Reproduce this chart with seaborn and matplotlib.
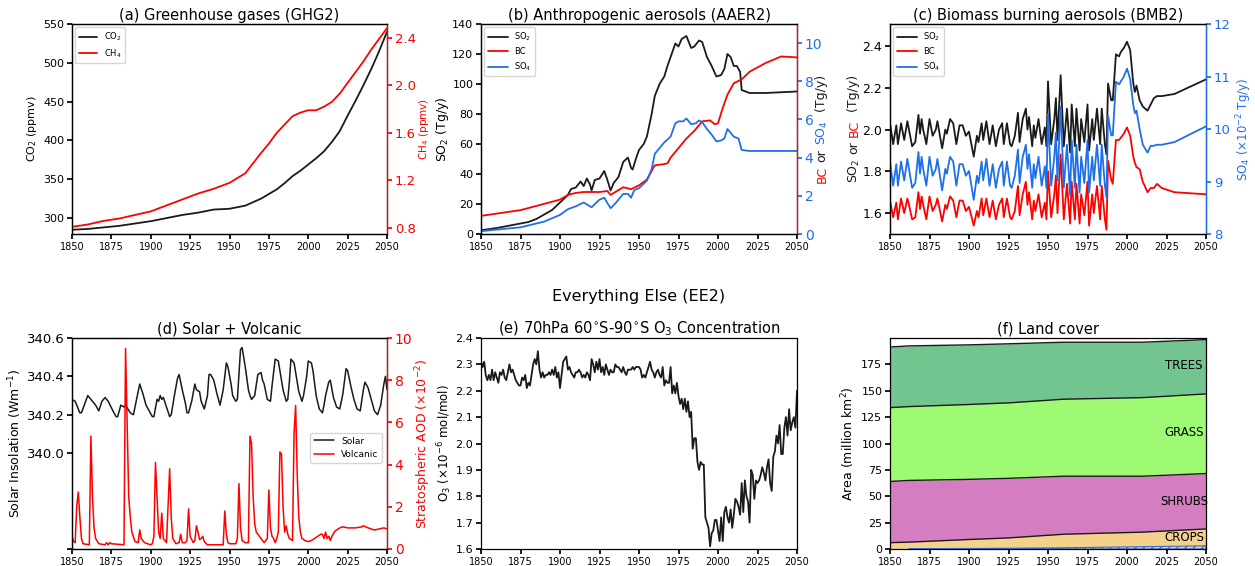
import numpy as np
import matplotlib
matplotlib.use("Agg")
import matplotlib.pyplot as plt
from matplotlib.lines import Line2D
import seaborn as sns

# ---------------- data ----------------
# (a) Greenhouse gases
ghg_years = [1850, 1860, 1870, 1880, 1890, 1900, 1910, 1920, 1930, 1940, 1950, 1960, 1970, 1975, 1980,
             1985, 1990, 1995, 2000, 2005, 2010, 2015, 2020, 2025, 2030, 2035, 2040, 2045, 2050]
co2 = [285, 286, 288, 290, 293, 296, 300, 304, 307, 311, 312, 316, 325, 331, 337,
       345, 354, 361, 369, 377, 386, 398, 412, 432, 451, 471, 492, 515, 540]
ch4 = [0.81, 0.83, 0.86, 0.88, 0.91, 0.94, 0.99, 1.04, 1.09, 1.13, 1.18, 1.26, 1.43, 1.51, 1.60,
       1.67, 1.74, 1.77, 1.79, 1.79, 1.82, 1.86, 1.93, 2.02, 2.11, 2.20, 2.30, 2.39, 2.48]

# (b) Anthropogenic aerosols
aaer_so2_years = [1850, 1860, 1870, 1875, 1880, 1885, 1890, 1895, 1900, 1905,
                  1907, 1910, 1913, 1915, 1917, 1919, 1920, 1922, 1925, 1928,
                  1930, 1932, 1934, 1937, 1940, 1943, 1945, 1946, 1948, 1950,
                  1953, 1955, 1958, 1960, 1963, 1966, 1968, 1970, 1973, 1975,
                  1977, 1980, 1983, 1985, 1988, 1990, 1993, 1996, 1999, 2002,
                  2004, 2006, 2008, 2010, 2012, 2014, 2015, 2020, 2030, 2050]
aaer_so2 = [2.5, 4, 6, 7, 8, 10, 13, 16, 21, 26,
            30, 31, 35, 32, 37, 33, 29, 36, 37, 42,
            36, 29, 34, 38, 48, 51, 44, 43, 50, 56,
            60, 65, 80, 92, 100, 105, 112, 118, 127, 125,
            130, 132, 124, 125, 129, 128, 118, 112, 105, 106,
            110, 120, 118, 112, 112, 108, 96, 94, 94, 95]
aaer_bc_years = [1850, 1875, 1900, 1905, 1910, 1915, 1920, 1925, 1930, 1932,
                 1935, 1940, 1945, 1950, 1955, 1958, 1960, 1965, 1968, 1970,
                 1975, 1980, 1985, 1990, 1995, 1998, 2000, 2003, 2006, 2010,
                 2015, 2020, 2030, 2040, 2050]
aaer_bc = [0.95, 1.25, 1.8, 2.05, 2.15, 2.2, 2.2, 2.2, 2.25, 2.05,
           2.2, 2.45, 2.35, 2.55, 2.85, 3.3, 3.6, 3.65, 3.7, 4.0,
           4.5, 5.0, 5.4, 5.9, 5.95, 5.75, 5.8, 6.6, 7.3, 7.9,
           8.1, 8.5, 8.95, 9.3, 9.25]
aaer_so4_years = [1850, 1875, 1890, 1900, 1905, 1910, 1915, 1917, 1920, 1925,
                  1928, 1932, 1935, 1938, 1940, 1943, 1945, 1947, 1950, 1955,
                  1958, 1960, 1963, 1966, 1970, 1973, 1975, 1978, 1980, 1983,
                  1986, 1988, 1990, 1993, 1996, 1999, 2002, 2004, 2006, 2008,
                  2010, 2013, 2015, 2020, 2050]
aaer_so4 = [0.15, 0.35, 0.65, 1.0, 1.3, 1.45, 1.65, 1.55, 1.4, 1.8,
            1.9, 1.35, 1.6, 1.9, 2.1, 2.1, 1.9, 2.3, 2.4, 2.8,
            3.4, 4.2, 4.5, 4.8, 5.1, 5.8, 5.9, 5.9, 6.05, 5.75,
            5.8, 5.95, 5.85, 5.5, 5.2, 4.85, 4.9, 5.0, 5.5, 5.3,
            5.1, 5.0, 4.4, 4.35, 4.35]

# (c) Biomass burning aerosols
bmb_years = [1850, 1852, 1854, 1855, 1857, 1859, 1861, 1862, 1864, 1866,
             1868, 1869, 1870, 1871, 1873, 1875, 1877, 1879, 1880, 1883,
             1885, 1886, 1888, 1890, 1892, 1894, 1896, 1898, 1900, 1903,
             1905, 1906, 1908, 1909, 1911, 1913, 1915, 1917, 1919, 1921,
             1922, 1924, 1926, 1927, 1929, 1931, 1932, 1934, 1936, 1937,
             1938, 1940, 1941, 1942, 1944, 1946, 1948, 1949, 1950, 1952,
             1954, 1955, 1956, 1958, 1960, 1962, 1964, 1965, 1967, 1968,
             1970, 1971, 1973, 1975, 1976, 1978, 1979, 1981, 1983, 1984,
             1986, 1987, 1988, 1990, 1991, 1993, 1995, 1996, 1998, 2000,
             2002, 2004, 2005, 2006, 2008, 2010, 2013, 2015, 2017, 2019,
             2022, 2030, 2050]
bmb_so2 = [2.03, 1.93, 2.02, 1.93, 2.03, 1.95, 2.04, 2.00, 1.92, 1.94,
           2.07, 1.98, 2.05, 2.00, 1.93, 2.05, 1.97, 2.00, 2.04, 1.91,
           2.00, 1.98, 2.05, 2.03, 1.93, 2.02, 2.02, 1.97, 1.99, 1.87,
           1.97, 1.94, 2.03, 1.95, 2.04, 1.93, 2.02, 1.92, 2.00, 2.03,
           1.93, 2.03, 1.93, 1.92, 1.97, 2.08, 1.94, 2.05, 2.10, 2.00,
           2.06, 1.92, 2.02, 1.96, 2.05, 1.93, 2.01, 1.92, 2.23, 1.93,
           2.05, 2.15, 1.95, 2.26, 1.92, 2.10, 1.89, 2.12, 1.92, 2.10,
           1.90, 2.05, 1.94, 2.12, 1.90, 2.05, 1.95, 2.10, 1.93, 2.10,
           1.93, 1.88, 2.22, 2.14, 2.14, 2.36, 2.35, 2.37, 2.39, 2.42,
           2.38, 2.22, 2.18, 2.21, 2.14, 2.11, 2.09, 2.12, 2.15, 2.16,
           2.16, 2.17, 2.24]
bmb_bc = [1.66, 1.58, 1.65, 1.57, 1.67, 1.60, 1.67, 1.64, 1.57, 1.58,
          1.70, 1.62, 1.68, 1.64, 1.57, 1.68, 1.61, 1.64, 1.67, 1.56,
          1.64, 1.62, 1.68, 1.66, 1.58, 1.66, 1.66, 1.61, 1.63, 1.54,
          1.61, 1.58, 1.67, 1.59, 1.67, 1.58, 1.66, 1.57, 1.64, 1.67,
          1.58, 1.67, 1.58, 1.57, 1.61, 1.73, 1.59, 1.69, 1.75, 1.64,
          1.70, 1.57, 1.66, 1.61, 1.69, 1.58, 1.65, 1.57, 1.80, 1.58,
          1.69, 1.78, 1.60, 1.88, 1.57, 1.74, 1.55, 1.75, 1.57, 1.74,
          1.55, 1.69, 1.59, 1.75, 1.54, 1.69, 1.60, 1.73, 1.57, 1.73,
          1.57, 1.52, 1.85, 1.76, 1.74, 1.95, 1.95, 1.96, 1.98, 2.01,
          1.97, 1.87, 1.84, 1.82, 1.81, 1.75, 1.70, 1.72, 1.72, 1.74,
          1.72, 1.70, 1.69]
bmb_so4 = [9.38, 8.92, 9.33, 8.92, 9.38, 9.02, 9.43, 9.24, 8.88, 8.97,
           9.56, 9.15, 9.47, 9.24, 8.92, 9.47, 9.11, 9.24, 9.43, 8.83,
           9.24, 9.15, 9.47, 9.38, 8.92, 9.33, 9.33, 9.11, 9.20, 8.65,
           9.11, 8.97, 9.38, 9.02, 9.43, 8.92, 9.33, 8.88, 9.24, 9.38,
           8.92, 9.38, 8.92, 8.88, 9.11, 9.61, 8.97, 9.47, 9.70, 9.24,
           9.52, 8.88, 9.33, 9.06, 9.47, 8.92, 9.29, 8.88, 10.29, 8.92,
           9.47, 9.93, 9.02, 10.43, 8.88, 9.70, 8.74, 9.79, 8.88, 9.70,
           8.79, 9.47, 8.97, 9.79, 8.79, 9.47, 9.02, 9.70, 8.92, 9.70,
           8.92, 8.70, 10.25, 9.88, 9.88, 10.90, 10.85, 10.90, 11.00, 11.15,
           10.95, 10.45, 10.30, 10.35, 10.00, 9.70, 9.55, 9.68, 9.68, 9.70,
           9.70, 9.75, 10.05]

# (d) Solar + volcanic
solar_years = [1850, 1852, 1855, 1856, 1860, 1861, 1865, 1867, 1869, 1871,
               1873, 1876, 1878, 1879, 1881, 1883, 1884, 1887, 1889, 1891,
               1893, 1895, 1897, 1899, 1901, 1902, 1904, 1905, 1906, 1907,
               1908, 1910, 1912, 1913, 1915, 1917, 1918, 1920, 1922, 1923,
               1924, 1926, 1928, 1929, 1931, 1932, 1934, 1936, 1937, 1938,
               1940, 1942, 1944, 1946, 1947, 1948, 1949, 1951, 1952, 1954,
               1955, 1957, 1958, 1959, 1960, 1962, 1963, 1964, 1966, 1968,
               1970, 1971, 1972, 1974, 1976, 1977, 1979, 1981, 1982, 1984,
               1986, 1987, 1988, 1989, 1991, 1992, 1994, 1996, 1997, 1999,
               2000, 2002, 2003, 2005, 2007, 2009, 2010, 2011, 2013, 2014,
               2016, 2018, 2020, 2022, 2024, 2025, 2027, 2029, 2031, 2033,
               2035, 2036, 2038, 2040, 2042, 2044, 2046, 2048, 2049, 2050]
solar = [340.28, 340.27, 340.21, 340.21, 340.30, 340.29, 340.25, 340.22, 340.27, 340.29,
         340.27, 340.22, 340.19, 340.19, 340.25, 340.24, 340.25, 340.21, 340.20, 340.28,
         340.36, 340.31, 340.25, 340.22, 340.19, 340.19, 340.28, 340.27, 340.30, 340.28,
         340.29, 340.24, 340.19, 340.20, 340.30, 340.39, 340.41, 340.33, 340.26, 340.21,
         340.21, 340.27, 340.36, 340.33, 340.32, 340.27, 340.23, 340.30, 340.41, 340.41,
         340.38, 340.31, 340.25, 340.33, 340.40, 340.47, 340.45, 340.36, 340.30, 340.27,
         340.28, 340.54, 340.55, 340.50, 340.45, 340.33, 340.30, 340.28, 340.30, 340.41,
         340.42, 340.38, 340.36, 340.28, 340.27, 340.35, 340.49, 340.48, 340.43, 340.33,
         340.27, 340.28, 340.37, 340.49, 340.47, 340.42, 340.32, 340.27, 340.30, 340.40,
         340.48, 340.47, 340.43, 340.30, 340.23, 340.21, 340.25, 340.30, 340.37, 340.38,
         340.29, 340.24, 340.23, 340.31, 340.44, 340.43, 340.35, 340.28, 340.23, 340.22,
         340.33, 340.37, 340.34, 340.28, 340.22, 340.20, 340.25, 340.36, 340.40, 340.33]
volc_years = [1850, 1851, 1852, 1853, 1854, 1855, 1856, 1857, 1861, 1862,
              1863, 1864, 1865, 1867, 1871, 1872, 1873, 1874, 1875, 1883,
              1884, 1885, 1886, 1887, 1888, 1890, 1892, 1893, 1894, 1896,
              1900, 1901, 1902, 1903, 1904, 1905, 1906, 1907, 1908, 1909,
              1910, 1912, 1913, 1914, 1916, 1918, 1919, 1920, 1922, 1923,
              1924, 1925, 1927, 1928, 1929, 1930, 1931, 1932, 1933, 1934,
              1936, 1946, 1947, 1948, 1949, 1950, 1954, 1955, 1956, 1957,
              1958, 1960, 1962, 1963, 1964, 1965, 1966, 1967, 1968, 1970,
              1972, 1974, 1975, 1976, 1977, 1978, 1979, 1980, 1981, 1982,
              1983, 1984, 1985, 1986, 1987, 1988, 1990, 1991, 1992, 1993,
              1994, 1995, 1996, 1998, 2000, 2002, 2004, 2006, 2008, 2009,
              2010, 2011, 2012, 2013, 2014, 2015, 2017, 2020, 2022, 2025,
              2030, 2034, 2035, 2038, 2040, 2042, 2045, 2048, 2050]
volc = [0.6, 0.35, 0.3, 2.0, 2.7, 1.5, 0.5, 0.25, 0.2, 5.35,
        2.5, 1.0, 0.5, 0.25, 0.2, 0.3, 0.2, 0.3, 0.25, 0.2,
        9.5, 6.0, 2.5, 1.5, 0.8, 0.35, 0.3, 0.9, 0.5, 0.3,
        0.2, 0.25, 0.6, 4.1, 2.5, 0.8, 0.5, 1.7, 0.5, 0.4,
        0.3, 3.8, 1.5, 0.5, 0.25, 0.3, 0.7, 0.3, 0.3, 0.4,
        1.9, 0.6, 0.3, 0.4, 1.1, 0.8, 0.45, 0.5, 0.6, 0.35,
        0.2, 0.2, 1.8, 0.7, 0.3, 0.25, 0.25, 0.5, 3.1, 1.0,
        0.4, 0.3, 0.3, 5.35, 5.0, 2.5, 1.2, 0.8, 0.7, 0.5,
        0.3, 0.5, 2.8, 1.0, 0.6, 0.5, 0.3, 0.5, 0.8, 4.6,
        4.5, 2.0, 0.8, 1.1, 0.7, 0.5, 0.4, 5.5, 6.8, 3.5,
        1.5, 0.8, 0.5, 0.4, 0.35, 0.4, 0.5, 0.6, 0.7, 0.7,
        0.5, 0.8, 0.5, 0.6, 0.4, 0.6, 0.85, 1.0, 1.05, 1.0,
        1.0, 1.05, 1.1, 1.0, 0.95, 0.9, 0.95, 1.0, 0.95]

# (e) Ozone, yearly 1850-2050
o3_years = list(range(1850, 2051))
o3 = [2.31, 2.29, 2.31, 2.26, 2.24, 2.26, 2.24, 2.28, 2.24, 2.27,
      2.25, 2.23, 2.27, 2.26, 2.28, 2.25, 2.24, 2.27, 2.30, 2.27,
      2.28, 2.26, 2.24, 2.23, 2.22, 2.22, 2.25, 2.24, 2.26, 2.21,
      2.23, 2.22, 2.26, 2.30, 2.32, 2.30, 2.35, 2.28, 2.25, 2.27,
      2.25, 2.26, 2.26, 2.27, 2.26, 2.28, 2.26, 2.29, 2.25, 2.27,
      2.21, 2.26, 2.31, 2.32, 2.33, 2.28, 2.29, 2.27, 2.26, 2.25,
      2.27, 2.27, 2.28, 2.27, 2.25, 2.26, 2.25, 2.27, 2.26, 2.24,
      2.32, 2.30, 2.27, 2.31, 2.28, 2.32, 2.27, 2.29, 2.26, 2.30,
      2.28, 2.26, 2.28, 2.27, 2.27, 2.30, 2.29, 2.29, 2.28, 2.27,
      2.29, 2.27, 2.26, 2.28, 2.28, 2.28, 2.29, 2.28, 2.29, 2.29,
      2.29, 2.28, 2.25, 2.26, 2.25, 2.27, 2.29, 2.31, 2.28, 2.27,
      2.25, 2.27, 2.28, 2.26, 2.25, 2.29, 2.22, 2.24, 2.23, 2.23,
      2.29, 2.19, 2.22, 2.19, 2.23, 2.18, 2.15, 2.17, 2.13, 2.17,
      2.12, 2.16, 2.10, 2.12, 1.98, 2.02, 2.02, 1.93, 1.90, 1.93,
      1.92, 1.92, 1.72, 1.70, 1.68, 1.61, 1.66, 1.67, 1.71, 1.71,
      1.67, 1.63, 1.72, 1.63, 1.74, 1.76, 1.72, 1.70, 1.75, 1.68,
      1.73, 1.79, 1.78, 1.76, 1.73, 1.85, 1.74, 1.86, 1.80, 1.78,
      1.70, 1.90, 1.88, 1.79, 1.86, 1.85, 1.86, 1.88, 1.91, 1.89,
      1.86, 1.91, 1.94, 1.85, 1.82, 1.95, 1.97, 2.03, 2.00, 2.07,
      1.96, 1.96, 2.06, 2.10, 2.03, 2.13, 2.05, 2.08, 2.10, 2.06,
      2.20]

# (f) Land cover (million km^2 per layer)
land_years = [1850, 1862, 1900, 1925, 1960, 2010, 2050]
land_crops = [6, 6.5, 9, 10.5, 14, 16, 19]
land_shrubs = [58, 58.5, 57, 56.5, 55, 53, 52.5]
land_grass = [70, 70, 71, 71.5, 73, 74.5, 75.5]
land_trees = [57.5, 57.5, 56.5, 56, 54, 52.5, 51.5]
land_labels = ["CROPS", "SHRUBS", "GRASS", "TREES"]
urban_years = [1862, 1900, 1950, 2000, 2050]
urban = [0.3, 0.5, 1.0, 2.0, 3.0]

# ---------------- style ----------------
sns.set_theme(style="ticks")
plt.rcParams["font.family"] = ["DejaVu Sans"]
plt.rcParams["mathtext.fontset"] = "dejavusans"
plt.rcParams.update({
    "axes.linewidth": 0.9,
    "axes.edgecolor": "black",
    "axes.labelcolor": "black",
    "text.color": "black",
    "xtick.color": "black",
    "ytick.color": "black",
    "xtick.major.size": 3.5,
    "ytick.major.size": 3.5,
    "legend.edgecolor": "0.8",
})

RED = "#ff0000"
BLUE = "#1f6fe8"
W, H = 1255, 566
fig = plt.figure(figsize=(W / 100, H / 100), dpi=100)


def pos(l, t, r, b):
    return [l / W, 1 - b / H, (r - l) / W, (b - t) / H]


axa = fig.add_axes(pos(72, 24, 387, 234))
axb = fig.add_axes(pos(481, 24, 797, 234))
axc = fig.add_axes(pos(890, 24, 1206, 234))
axd = fig.add_axes(pos(72, 338, 387, 549))
axe = fig.add_axes(pos(481, 338, 797, 549))
axf = fig.add_axes(pos(890, 338, 1206, 549))

XT = list(range(1850, 2051, 25))
for ax in (axa, axb, axc, axd, axe, axf):
    ax.set_xlim(1850, 2050)
    ax.set_xticks(XT)
    ax.tick_params(axis="x", labelsize=7, pad=2)
    ax.tick_params(axis="y", labelsize=8, pad=2)

TFS = 10.5
LW = 1.3


def style_right(ax, color, tickcolor=None, labelsize=9.5):
    tc = tickcolor or color
    ax.spines["right"].set_color(color)
    ax.tick_params(axis="y", colors=tc, labelcolor=tc, labelsize=labelsize, pad=2)


def vlabel(ax, xfrac, parts, fontsize):
    r = fig.canvas.get_renderer()
    texts = []
    for s, c in parts:
        t = ax.text(xfrac, 0, s, color=c, fontsize=fontsize, rotation=90,
                    ha="center", va="bottom", transform=ax.transAxes)
        texts.append(t)
    hs = [t.get_window_extent(r).height for t in texts]
    axh = ax.get_window_extent(r).height
    gap = fontsize * 0.32 * fig.dpi / 72
    total = sum(hs) + gap * (len(hs) - 1)
    y = axh / 2 - total / 2
    for t, h in zip(texts, hs):
        t.set_y(y / axh)
        y += h + gap


def legend_handles(colors, lw):
    return [Line2D([], [], color=c, lw=lw) for c in colors]


# ---- (a)
sns.lineplot(x=ghg_years, y=co2, ax=axa, color="k", lw=LW, legend=False)
axa2 = axa.twinx()
sns.lineplot(x=ghg_years, y=ch4, ax=axa2, color=RED, lw=LW, legend=False)
axa.set_ylim(279.5, 550)
axa.set_yticks([300, 350, 400, 450, 500, 550])
axa2.set_ylim(0.75, 2.515)
axa2.set_yticks([0.8, 1.2, 1.6, 2.0, 2.4])
style_right(axa2, RED)
axa.set_ylabel("CO$_2$ (ppmv)", fontsize=8, labelpad=3)
axa2.set_ylabel("CH$_4$ (ppmv)", fontsize=7.5, color=RED, labelpad=1)
axa.set_title("(a) Greenhouse gases (GHG2)", fontsize=TFS, pad=3)
axa2.legend(handles=legend_handles(["k", RED], LW),
            labels=["CO$_2$", "CH$_4$"], loc="upper left", fontsize=6,
            borderaxespad=0.4, handlelength=2.2)

# ---- (b)
sns.lineplot(x=aaer_so2_years, y=aaer_so2, ax=axb, color="k", lw=LW, legend=False)
axb2 = axb.twinx()
sns.lineplot(x=aaer_bc_years, y=aaer_bc, ax=axb2, color=RED, lw=LW, legend=False)
sns.lineplot(x=aaer_so4_years, y=aaer_so4, ax=axb2, color=BLUE, lw=LW, legend=False)
axb.set_ylim(0, 140)
axb.set_yticks(range(0, 141, 20))
axb2.set_ylim(0, 11)
axb2.set_yticks([0, 2, 4, 6, 8, 10])
style_right(axb2, RED, BLUE, labelsize=10)
axb.set_ylabel("SO$_2$ (Tg/y)", fontsize=9, labelpad=1)
axb.set_title("(b) Anthropogenic aerosols (AAER2)", fontsize=TFS, pad=3)
axb2.legend(handles=legend_handles(["k", RED, BLUE], LW),
            labels=["SO$_2$", "BC", "SO$_4$"], loc="upper left", fontsize=6,
            borderaxespad=0.4, handlelength=2.4)
vlabel(axb2, 1.079, [("BC", RED), ("or", "k"), ("SO$_4$", BLUE), (" (Tg/y)", "k")], 9)

# ---- (c)
sns.lineplot(x=bmb_years, y=bmb_so2, ax=axc, color="k", lw=LW, legend=False)
sns.lineplot(x=bmb_years, y=bmb_bc, ax=axc, color=RED, lw=LW, legend=False)
axc2 = axc.twinx()
sns.lineplot(x=bmb_years, y=bmb_so4, ax=axc2, color=BLUE, lw=LW, legend=False)
axc.set_ylim(1.5, 2.505)
axc.set_yticks([1.6, 1.8, 2.0, 2.2, 2.4])
axc.tick_params(axis="y", labelsize=9)
axc2.set_ylim(8, 12)
axc2.set_yticks([8, 9, 10, 11, 12])
style_right(axc2, BLUE, labelsize=9.5)
axc2.set_ylabel("SO$_4$ ($\\times$10$^{-2}$ Tg/y)", fontsize=8.5, color=BLUE, labelpad=3)
axc.set_title("(c) Biomass burning aerosols (BMB2)", fontsize=TFS, pad=3)
axc2.legend(handles=legend_handles(["k", RED, BLUE], LW),
            labels=["SO$_2$", "BC", "SO$_4$"], loc="upper left", fontsize=6,
            borderaxespad=0.4, handlelength=2.4)
vlabel(axc, -0.114, [("SO$_2$", "k"), ("or", "k"), ("BC", RED), (" (Tg/y)", "k")], 9)

# ---- (d)
sns.lineplot(x=solar_years, y=solar, ax=axd, color="k", lw=1.1, legend=False)
axd2 = axd.twinx()
sns.lineplot(x=volc_years, y=volc, ax=axd2, color=RED, lw=1.1, legend=False)
axd.set_ylim(339.5, 340.6)
axd.set_yticks([339.5, 340.0, 340.2, 340.4, 340.6])
axd.set_yticklabels(["", "340.0", "340.2", "340.4", "340.6"])
axd.tick_params(axis="y", labelsize=9.5)
axd2.set_ylim(0, 10)
axd2.set_yticks([0, 2, 4, 6, 8, 10])
style_right(axd2, RED, labelsize=10)
axd.set_ylabel("Solar Insolation (Wm$^{-1}$)", fontsize=9, labelpad=2)
axd2.set_ylabel("Stratospheric AOD ($\\times$10$^{-2}$)", fontsize=9, color=RED, labelpad=1)
axd.set_title("(d) Solar + Volcanic", fontsize=TFS, pad=3)
axd2.legend(handles=legend_handles(["k", RED], 1.1),
            labels=["Solar", "Volcanic"], loc="upper left", bbox_to_anchor=(0.757, 0.55),
            fontsize=6.5, borderaxespad=0, handlelength=2.2)

# ---- (e)
sns.lineplot(x=o3_years, y=o3, ax=axe, color="k", lw=LW, legend=False)
axe.set_ylim(1.6, 2.4)
axe.set_yticks(np.round(np.arange(1.6, 2.41, 0.1), 1))
axe.set_ylabel("O$_3$ ($\\times$10$^{-6}$ mol/mol)", fontsize=8.5, labelpad=1)
axe.set_title("(e) 70hPa 60$^{\\circ}$S-90$^{\\circ}$S O$_3$ Concentration", fontsize=TFS, pad=3)

# ---- (f)
land_colors = ["#f5d28c", "#d47dc0", "#9efa72", "#73c58f"]
layers = np.array([land_crops, land_shrubs, land_grass, land_trees])
axf.stackplot(land_years, *layers, colors=land_colors, labels=land_labels, lw=0)
tops = np.cumsum(layers, axis=0)
for row in tops:
    sns.lineplot(x=land_years, y=row, ax=axf, color="k", lw=1.0, legend=False)
axf.fill_between(urban_years, 0, urban, facecolor="none", edgecolor="#3b6fd6",
                 hatch="////", lw=0.8)
label_pos = {"TREES": 174, "GRASS": 110, "SHRUBS": 45, "CROPS": 11}
for lab in land_labels:
    axf.text(2036, label_pos[lab], lab, fontsize=8.5, ha="center", va="center")
axf.set_ylim(0, 200)
axf.set_yticks(range(0, 176, 25))
axf.set_ylabel("Area (million km$^2$)", fontsize=9, labelpad=3)
axf.set_title("(f) Land cover", fontsize=TFS, pad=3)

fig.text(0.509, 1 - 297 / H, "Everything Else (EE2)", ha="center", va="center", fontsize=11.5)

fig.savefig("out.png", dpi=100)
